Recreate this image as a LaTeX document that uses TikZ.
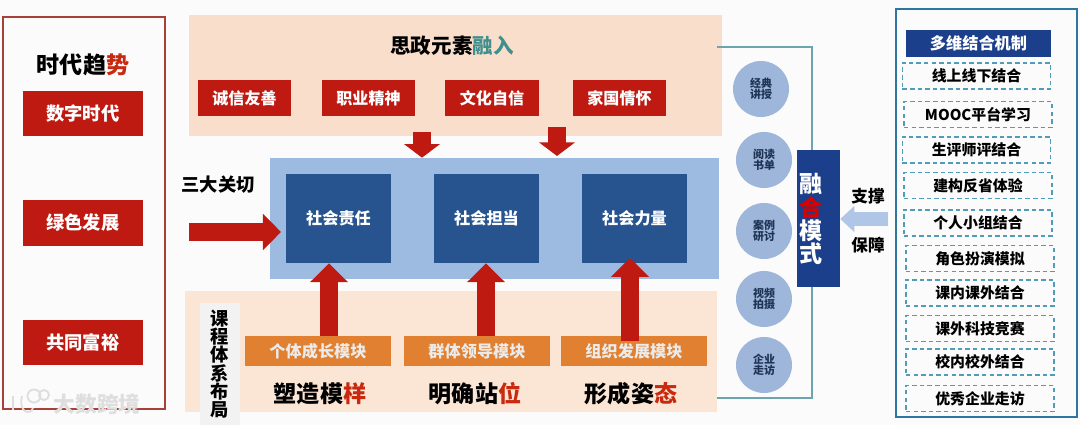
\documentclass[tikz,border=0pt]{standalone}
\usepackage{fontspec}
\setmainfont{Noto Sans CJK SC}
\usetikzlibrary{arrows.meta}
\definecolor{trendred}{HTML}{BE1A12}
\definecolor{framered}{HTML}{A8403A}
\definecolor{peach}{HTML}{F9DFCB}
\definecolor{peachlight}{HTML}{FBE6D6}
\definecolor{panelblue}{HTML}{9DBBE0}
\definecolor{dutyblue}{HTML}{27548F}
\definecolor{modorange}{HTML}{E08030}
\definecolor{navy}{HTML}{1B3F8B}
\definecolor{tealtext}{HTML}{3F8F8F}
\definecolor{tealline}{HTML}{6BA6AE}
\definecolor{circleblue}{HTML}{9DB6DA}
\definecolor{circletext}{HTML}{1F3455}
\definecolor{dashblue}{HTML}{4F9DB8}
\definecolor{frameblue}{HTML}{2E75A0}
\definecolor{supportblue}{HTML}{AFC6E6}
\definecolor{pagewhite}{HTML}{FBFBFC}
\definecolor{markgray}{HTML}{DEDEDE}
\newcommand{\fs}[1]{\fontsize{#1}{#1}\selectfont\bfseries}
\tikzset{
    panel/.style={rectangle, inner sep=0pt},
    redbox/.style={rectangle, fill=trendred, text=white, inner sep=0pt},
    dutybox/.style={rectangle, fill=dutyblue, text=white, inner sep=0pt, minimum width=2.63cm, minimum height=2.23cm, font=\fs{11.5}},
    modbox/.style={rectangle, fill=modorange, text=white!92!black, inner sep=0pt, minimum width=3.65cm, minimum height=0.75cm, font=\fs{11.5}},
    bigtitle/.style={font=\fs{16.4}, inner sep=0pt},
    method/.style={circle, fill=circleblue, text=circletext, inner sep=0pt, minimum size=1.4cm, align=center, font=\fs{7.8}},
    dashbox/.style={rectangle, draw=dashblue, line width=0.9pt, dash pattern=on 3.2pt off 2.2pt, inner sep=0pt, minimum width=3.7cm, minimum height=0.65cm, font=\fs{10.6}},
    upblock/.style={trendred, line width=0.47cm, -{Triangle[length=0.47cm, width=0.92cm]}},
    downblock/.style={trendred, line width=0.46cm, -{Triangle[length=0.34cm, width=0.88cm]}},
    sideblock/.style={trendred, line width=0.43cm, -{Triangle[length=0.45cm, width=0.88cm]}},
    supportblock/.style={supportblue, line width=0.35cm, -{Triangle[length=0.35cm, width=0.63cm]}}
}
\begin{document}
\begin{tikzpicture}[x=0.025cm, y=-0.025cm]
        \useasboundingbox (0, 0) rectangle (1080, 425);
        \fill[pagewhite] (0, 0) rectangle (1080, 425);

        % Left column
        \node[panel, draw=framered, line width=0.9pt, minimum width=4.05cm, minimum height=9.8cm] (trendframe) at (84, 213) {};
        \node[bigtitle] (trendtitle) at (83, 65) {时代趋{\color{trendred!85!orange}势}};
        \node[redbox, minimum width=3cm, minimum height=1.13cm, font=\fs{13}] (trend1) at (83, 113.5) {数字时代};
        \node[redbox, minimum width=3cm, minimum height=1.13cm, font=\fs{13}] (trend2) at (83, 223) {绿色发展};
        \node[redbox, minimum width=3cm, minimum height=1.13cm, font=\fs{13}] (trend3) at (83, 342.5) {共同富裕};

        % Top panel
        \node[panel, fill=peach, minimum width=13.325cm, minimum height=3.025cm] (toppanel) at (455.5, 75.5) {};
        \node[font=\fs{14.6}, inner sep=0pt] (toptitle) at (452, 46) {思政元素{\color{tealtext}融入}};
        \node[redbox, minimum width=2.33cm, minimum height=0.9cm, font=\fs{11.4}] (value1) at (244.5, 98) {诚信友善};
        \node[redbox, minimum width=2.33cm, minimum height=0.9cm, font=\fs{11.4}] (value2) at (368.5, 98) {职业精神};
        \node[redbox, minimum width=2.33cm, minimum height=0.9cm, font=\fs{11.4}] (value3) at (492, 98) {文化自信};
        \node[redbox, minimum width=2.33cm, minimum height=0.9cm, font=\fs{11.4}] (value4) at (619.5, 98) {家国情怀};

        % Bottom panel, under the blue one
        \node[panel, fill=peachlight, minimum width=13.3cm, minimum height=3.025cm] (botpanel) at (451, 351.5) {};
        \node[panel, fill=black!5, minimum width=1cm, minimum height=3.05cm, align=center, font=\fs{13}] (course) at (220, 364) {课\\程\\体\\系\\布\\局};

        % Blue panel
        \node[panel, fill=panelblue, minimum width=11.225cm, minimum height=3.025cm] (bluepanel) at (494.5, 218.5) {};
        \node[dutybox] (duty1) at (338.5, 218.5) {社会责任};
        \node[dutybox] (duty2) at (486.5, 218.5) {社会担当};
        \node[dutybox] (duty3) at (634.5, 218.5) {社会力量};

        \node[font=\fs{13}, inner sep=0pt] (concern) at (218, 185) {三大关切};
        \coordinate (concernin) at (189, 232);
        \coordinate (concerntip) at (281, 232);
        \draw[sideblock] (concernin) -- (concerntip);

        % Values flow down
        \coordinate (down1) at (422, 132);
        \coordinate (down2) at (557, 127);
        \coordinate (downtip2) at (557, 156);
        \draw[downblock] (down1) -- (down1 |- bluepanel.north);
        \draw[downblock] (down2) -- (downtip2);

        % Modules
        \node[modbox] (mod1) at (318, 351) {个体成长模块};
        \node[modbox] (mod2) at (477, 351) {群体领导模块};
        \node[modbox] (mod3) at (634, 351) {组织发展模块};
        \node[bigtitle] (goal1) at (320, 394) {塑造模{\color{trendred!85!orange}样}};
        \node[bigtitle] (goal2) at (475, 394) {明确站{\color{trendred!85!orange}位}};
        \node[bigtitle] (goal3) at (631, 394) {形成姿{\color{trendred!85!orange}态}};

        \coordinate (up1) at (329, 336);
        \coordinate (up2) at (486, 336);
        \coordinate (up3) at (630, 341);
        \coordinate (uptip3) at (630, 258);
        \draw[upblock] (up1) -- (up1 |- duty1.south);
        \draw[upblock] (up2) -- (up2 |- duty2.south);
        \draw[upblock] (up3) -- (uptip3);

        % Methods and mixed mode
        \node[panel, fill=navy, minimum width=1.075cm, minimum height=3.425cm] (mode) at (818.5, 218.5) {};
        \coordinate (mixtop) at (717, 47);
        \coordinate (mixbot) at (717, 398);
        \draw[tealline, line width=0.9pt] (mixtop) -| ([xshift=-0.1625cm]mode.north);
        \draw[tealline, line width=0.9pt] (mixbot) -| ([xshift=-0.1625cm]mode.south);
        \node[text=white, align=center, font=\fs{16.4}, inner sep=0pt] (modetext) at (811.5, 219) {融\\{\color{red!85!black}合}\\模\\式};

        \node[method] (way1) at (761, 89) {经典\\讲授};
        \node[method] (way2) at (764, 160) {阅读\\书单};
        \node[method] (way3) at (764, 231) {案例\\研讨};
        \node[method] (way4) at (764, 299) {视频\\拍摄};
        \node[method] (way5) at (764, 365) {企业\\走访};

        % Right column
        \node[panel, draw=frameblue, line width=1pt, minimum width=4.525cm, minimum height=10.2cm] (mechframe) at (986.5, 213) {};
        \node[panel, fill=navy, text=white, minimum width=3.625cm, minimum height=0.675cm, font=\fs{11.5}] (mechtitle) at (978.5, 43.5) {多维结合机制};
        \node[dashbox] (mech1) at (976.5, 76) {线上线下结合};
        \node[dashbox] (mech2) at (978, 114.5) {MOOC平台学习};
        \node[dashbox] (mech3) at (976.5, 150) {生评师评结合};
        \node[dashbox] (mech4) at (978, 185.5) {建构反省体验};
        \node[dashbox] (mech5) at (978, 223) {个人小组结合};
        \node[dashbox] (mech6) at (980, 258.5) {角色扮演模拟};
        \node[dashbox] (mech7) at (980, 293) {课内课外结合};
        \node[dashbox] (mech8) at (980, 328.5) {课外科技竞赛};
        \node[dashbox] (mech9) at (980, 362) {校内校外结合};
        \node[dashbox] (mech10) at (980, 398.5) {优秀企业走访};

        % Support
        \node[font=\fs{11.8}, inner sep=0pt] (support) at (868, 196) {支撑};
        \node[font=\fs{11.8}, inner sep=0pt] (safeguard) at (868, 245) {保障};
        \coordinate (supportin) at (888, 219);
        \draw[supportblock] (supportin) -- (mode.east |- supportin);

        % Watermark
        \node[text=markgray, font=\fs{15.4}, inner sep=0pt] (mark) at (97, 404) {大数跨境};
        \draw[markgray, line width=1.3pt] (34, 396) circle (6.5) (44, 395) circle (5);
        \draw[markgray, line width=1.3pt] (13, 396) -- (13, 410) (22, 396) .. controls (18, 412) and (30, 416) .. (33, 408);
    \end{tikzpicture}
\end{document}
